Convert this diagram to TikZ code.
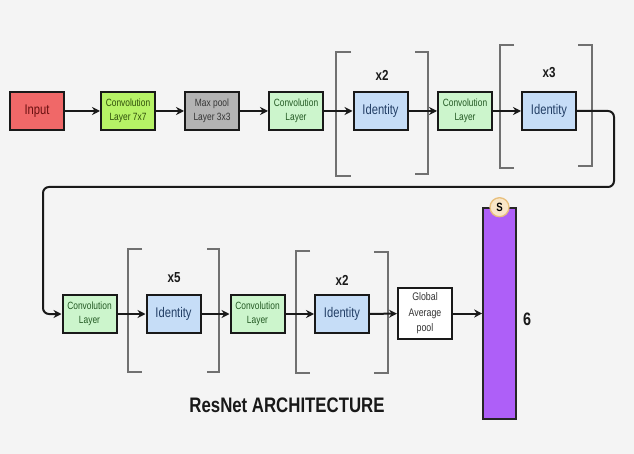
\documentclass[tikz,border=0pt]{standalone}
\usepackage{fontspec}
\setmainfont{Liberation Sans}
\newfontfamily\nf[FakeStretch=0.8]{Liberation Sans}
\usetikzlibrary{arrows.meta}
\definecolor{bg}{HTML}{F4F4F4}
\definecolor{cinput}{HTML}{F06868}
\definecolor{tinput}{HTML}{6A1010}
\definecolor{cseven}{HTML}{B6F266}
\definecolor{tseven}{HTML}{2F4F0A}
\definecolor{cmp}{HTML}{B3B3B3}
\definecolor{tmp}{HTML}{353535}
\definecolor{cconv}{HTML}{CCF5CC}
\definecolor{tconv}{HTML}{245A24}
\definecolor{cid}{HTML}{C6DDF7}
\definecolor{tid}{HTML}{233F66}
\definecolor{cbar}{HTML}{AE5FF8}
\definecolor{cs}{HTML}{F9E6C8}
\definecolor{csb}{HTML}{E8C07E}
\definecolor{cbrk}{HTML}{707070}
\tikzset{
  box/.style={draw=black!90, line width=2pt, minimum width=54, minimum height=38, inner sep=0pt, align=center},
  small/.style={font=\nf\fontsize{10.5}{14.5}\selectfont},
  convbox/.style={box, small, fill=cconv, text=tconv},
  idbox/.style={box, fill=cid, text=tid, font=\nf\fontsize{14}{16}\selectfont},
  rep/.style={font=\nf\bfseries\fontsize{14.5}{16}\selectfont, text=black!90},
  arr/.style={draw=black!90, line width=2pt, -{Stealth[length=8pt,width=8pt]}},
  brk/.style={draw=cbrk, line width=1.3pt},
}
\begin{document}
\begin{tikzpicture}[x=1pt,y=-1pt]
\useasboundingbox (0,0) rectangle (634,454);
\fill[bg] (0,0) rectangle (634,454);

% brackets (top row)
\draw[brk] (351,52) -- (336,52) -- (336,176) -- (351,176);
\draw[brk] (415,52) -- (428,52) -- (428,174) -- (415,174);
\draw[brk] (514,45) -- (500,45) -- (500,168) -- (514,168);
\draw[brk] (578,45) -- (592,45) -- (592,166) -- (578,166);
% brackets (bottom row)
\draw[brk] (142,249) -- (128,249) -- (128,372) -- (142,372);
\draw[brk] (207,249) -- (219,249) -- (219,372) -- (207,372);
\draw[brk] (310,251) -- (296,251) -- (296,373) -- (310,373);
\draw[brk] (374,252) -- (388,252) -- (388,373) -- (374,373);

% top row
\node[box, fill=cinput, text=tinput, font=\nf\fontsize{14}{16}\selectfont] (in) at (37,111) {Input};
\node[box, small, fill=cseven, text=tseven] (c1) at (128,111) {Convolution\\Layer 7x7};
\node[box, small, fill=cmp, text=tmp] (mp) at (212,111) {Max pool\\Layer 3x3};
\node[convbox] (c2) at (296,111) {Convolution\\Layer};
\node[idbox] (id1) at (380.5,111) {Identity};
\node[convbox] (c3) at (465,111) {Convolution\\Layer};
\node[idbox] (id2) at (549,111) {Identity};
\node[rep] (r1) at (382,75) {x2};
\node[rep] (r2) at (549,73) {x3};

% bottom row
\node[convbox] (c4) at (89.5,314) {Convolution\\Layer};
\node[idbox] (id3) at (173.5,314) {Identity};
\node[convbox] (c5) at (257.5,314) {Convolution\\Layer};
\node[idbox] (id4) at (342,314) {Identity};
\node[box, fill=white, text=black!80, minimum height=51, font=\nf\fontsize{11}{15.5}\selectfont] (gap) at (425,313.5) {Global\\Average\\pool};
\node[rep] (r3) at (174,278) {x5};
\node[rep] (r4) at (342,280) {x2};

\node[draw=black!85, line width=1.6pt, fill=cbar, minimum width=33, minimum height=211, inner sep=0pt] (bar) at (499.5,313.5) {};
\node[circle, draw=csb, line width=1.3pt, fill=cs, minimum size=19, inner sep=0pt, font=\nf\bfseries\fontsize{12}{13}\selectfont] (s) at (bar.north) {S};
\node[font=\nf\bfseries\fontsize{18}{20}\selectfont, text=black!90] (six) at (527,319) {6};

\node[font=\nf\bfseries\fontsize{21}{23}\selectfont, text=black!90] (title) at (287,405) {ResNet ARCHITECTURE};

% connectors
\draw[arr] (in) -- (c1);
\draw[arr] (c1) -- (mp);
\draw[arr] (mp) -- (c2);
\draw[arr] (c2) -- (id1);
\draw[arr] (id1) -- (c3);
\draw[arr] (c3) -- (id2);
\coordinate (w1) at (614,187);
\coordinate (w2) at (43,187);
\draw[arr, rounded corners=6pt] (id2.east) -| (w1) -- (w2) |- (c4.west);
\draw[arr] (c4) -- (id3);
\draw[arr] (id3) -- (c5);
\draw[arr] (c5) -- (id4);
\draw[arr] (id4) -- (gap);
\draw[arr] (gap.east) -- (gap.east -| bar.west);
\end{tikzpicture}
\end{document}
